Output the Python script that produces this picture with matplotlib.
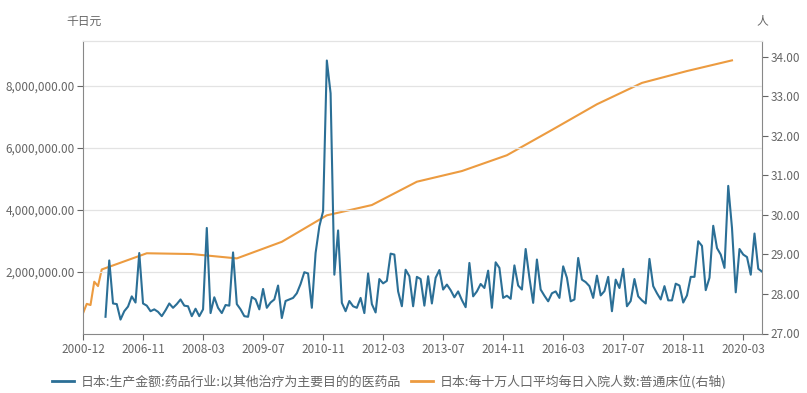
import numpy as np
import pandas as pd
import matplotlib
matplotlib.use("Agg")
import matplotlib.pyplot as plt
from matplotlib.ticker import FuncFormatter

plt.rcParams['font.family'] = ['Noto Sans CJK SC', 'DejaVu Sans']

# category axis: annual points 2000-12..2005-12, then monthly 2006-01..2020-08
annual_dates = [f"{y}-12" for y in range(2000, 2006)]
monthly_dates = list(pd.date_range("2006-01-01", "2020-08-01", freq="MS").strftime("%Y-%m"))
categories = annual_dates + monthly_dates

# 日本:生产金额:药品行业 (千日元, millions here), monthly 2006-01 .. 2020-08
production = [
    0.54, 2.36, 0.97, 0.95, 0.45, 0.72, 0.87, 1.20, 1.00, 2.60,
    0.97, 0.90, 0.72, 0.78, 0.70, 0.56, 0.75, 0.97, 0.83, 0.95,
    1.10, 0.90, 0.88, 0.56, 0.80, 0.56, 0.78, 3.41, 0.66, 1.17,
    0.83, 0.66, 0.92, 0.90, 2.62, 0.95, 0.78, 0.56, 0.54, 1.18,
    1.10, 0.78, 1.44, 0.83, 1.00, 1.10, 1.55, 0.50, 1.05, 1.10,
    1.15, 1.30, 1.60, 1.98, 1.94, 0.83, 2.60, 3.46, 3.95, 8.82,
    7.76, 1.90, 3.33, 0.99, 0.72, 1.05, 0.88, 0.83, 1.15, 0.66,
    1.94, 0.95, 0.68, 1.76, 1.62, 1.70, 2.58, 2.55, 1.36, 0.88,
    2.06, 1.85, 0.88, 1.83, 1.76, 0.90, 1.85, 0.97, 1.80, 2.05,
    1.42, 1.58, 1.40, 1.17, 1.36, 1.08, 0.85, 2.28, 1.20, 1.36,
    1.60, 1.47, 2.03, 0.83, 2.30, 2.12, 1.15, 1.22, 1.12, 2.20,
    1.55, 1.42, 2.73, 1.80, 0.99, 2.39, 1.42, 1.22, 1.04, 1.30,
    1.36, 1.15, 2.17, 1.80, 1.04, 1.10, 2.44, 1.74, 1.66, 1.53,
    1.15, 1.87, 1.23, 1.37, 1.83, 0.72, 1.74, 1.47, 2.09, 0.88,
    1.05, 1.76, 1.20, 1.07, 0.97, 2.41, 1.53, 1.30, 1.10, 1.53,
    1.07, 1.07, 1.61, 1.55, 1.00, 1.23, 1.83, 1.83, 2.98, 2.83,
    1.40, 1.80, 3.48, 2.76, 2.55, 2.12, 4.77, 3.41, 1.33, 2.73,
    2.55, 2.47, 1.90, 3.23, 2.09, 2.00,
]

# 每十万人口平均每日入院人数:普通床位, annual (December)
inpatient_dates = [f"{y}-12" for y in range(2000, 2020)]
inpatient = [27.51, 27.75, 27.72, 28.31, 28.20, 28.62, 29.03, 29.01, 28.90, 29.32,
             29.99, 30.25, 30.84, 31.11, 31.51, 32.15, 32.80, 33.34, 33.64, 33.91]

blue = "#2b6f96"
orange = "#ec9b40"
grey = "#666666"

fig = plt.figure(figsize=(8.07, 3.93), dpi=100)
ax = fig.add_axes([83/807, 1-333.5/393, (762-83)/807, (333.5-41)/393])
ax2 = ax.twinx()

idx = {c: i for i, c in enumerate(categories)}
x_blue = [idx[d] for d in monthly_dates]
x_orange = [idx[d] for d in inpatient_dates]

ax.plot(x_blue, np.array(production) * 1e6, color=blue, lw=1.5, zorder=3)
ax2.plot(x_orange, inpatient, color=orange, lw=1.5, zorder=2)
ax.set_zorder(ax2.get_zorder() + 1)
ax.patch.set_visible(False)

ax.set_xlim(0, len(categories) - 1)
ax.set_ylim(0, 9.45e6)
ax2.set_ylim(27, 34.4)

ax.set_yticks([2e6, 4e6, 6e6, 8e6])
ax.yaxis.set_major_formatter(FuncFormatter(lambda v, p: f"{v:,.2f}"))
ax2.set_yticks(range(27, 35))
ax2.yaxis.set_major_formatter(FuncFormatter(lambda v, p: f"{v:.2f}"))

ticks = list(range(0, len(categories), 16))
ax.set_xticks(ticks)
ax.set_xticklabels([categories[i] for i in ticks])

ax.grid(axis='y', color='#e3e3e3', lw=0.9)
ax.set_axisbelow(True)

for a in (ax, ax2):
    a.tick_params(colors=grey, labelsize=8.5, length=4, width=0.8, pad=2)
    for s in ('left', 'right', 'bottom'):
        a.spines[s].set_color('#888888')
    a.spines['top'].set_color('#e3e3e3')
ax.spines['right'].set_visible(False)
ax2.spines['left'].set_visible(False)
ax2.spines['bottom'].set_visible(False)
ax.tick_params(axis='x', pad=3)

fig.text(66/807, 1-21/393, "千日元", color=grey, fontsize=8.5, va='center')
fig.text(762/807, 1-21/393, "人", color=grey, fontsize=8.5, va='center', ha='center')

h1, = ax.plot([], [], color=blue, lw=2)
h2, = ax.plot([], [], color=orange, lw=2)
fig.legend([h1, h2],
           ["日本:生产金额:药品行业:以其他治疗为主要目的的医药品",
            "日本:每十万人口平均每日入院人数:普通床位(右轴)"],
           loc='center', bbox_to_anchor=(0.482, 0.029), ncol=2, frameon=False,
           fontsize=9.3, labelcolor=grey, handlelength=1.7, columnspacing=0.8,
           handletextpad=0.5)

fig.savefig("out.png", dpi=100)
